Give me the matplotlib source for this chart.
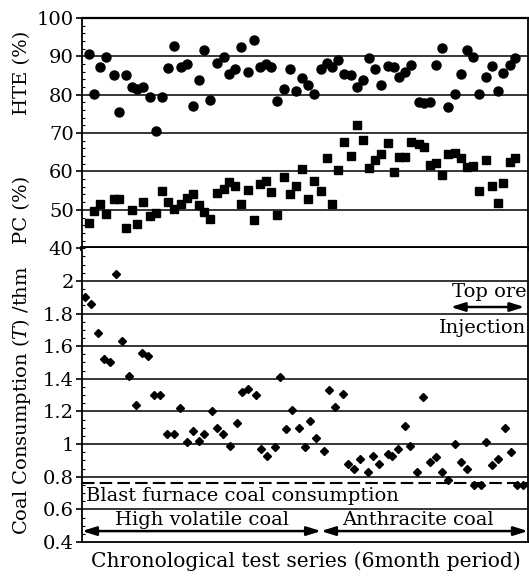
import numpy as np
import matplotlib.pyplot as plt
from matplotlib.ticker import MultipleLocator, FormatStrFormatter

plt.rcParams['font.family'] = ['DejaVu Serif']
plt.rcParams['mathtext.fontset'] = 'dejavuserif'

# test series position (6 month periods), shared by HTE and PC
test_x = [1.1, 2.1, 3.1, 4.1, 5.3, 6.3, 7.4, 8.4, 9.3, 10.3, 11.4, 12.5, 13.5,
          14.5, 15.5, 16.7, 17.7, 18.6, 19.6, 20.6, 21.6, 22.7, 23.9, 24.8,
          25.8, 26.7, 28.0, 28.9, 30.0, 31.0, 31.8, 32.8, 34.0, 35.0, 36.0,
          37.0, 38.0, 39.0, 40.2, 41.2, 42.1, 43.1, 44.0, 45.2, 46.3, 47.3,
          48.2, 49.2, 50.3, 51.5, 52.4, 53.3, 54.4, 55.3, 56.6, 57.5, 58.5,
          59.6, 60.5, 61.5, 62.8, 63.7, 64.7, 65.7, 66.8, 67.9, 68.9, 69.9,
          70.8, 71.9, 72.9]

hte = [90.5, 80.3, 87.3, 89.9, 85.0, 75.6, 85.0, 82.1, 81.6, 82.1, 79.5, 70.6,
       79.3, 87.0, 92.7, 87.3, 88.0, 77.0, 83.8, 91.6, 78.6, 88.3, 89.9, 85.4,
       86.6, 92.3, 86.0, 94.3, 87.3, 88.0, 87.3, 78.3, 81.6, 86.6, 80.9, 84.3,
       82.5, 80.3, 86.6, 88.3, 87.3, 89.0, 85.4, 85.0, 82.1, 83.8, 89.5, 86.6,
       82.5, 87.5, 87.1, 84.7, 86.0, 87.7, 78.2, 77.9, 78.2, 87.7, 92.1, 76.7,
       80.3, 85.4, 91.6, 89.7, 80.3, 84.7, 87.5, 81.0, 85.7, 87.7, 89.5]

pc = [46.6, 49.6, 51.4, 49.0, 52.7, 52.7, 45.4, 49.9, 46.2, 52.0, 48.3, 49.2,
      54.9, 52.0, 50.3, 51.4, 53.2, 54.2, 51.2, 49.4, 47.5, 54.5, 55.4, 57.3,
      56.1, 51.4, 55.3, 47.4, 56.8, 57.5, 54.6, 48.6, 58.6, 54.2, 56.1, 60.7,
      52.7, 57.5, 54.9, 63.4, 51.4, 60.3, 67.7, 64.0, 72.1, 68.1, 61.0, 63.1,
      64.6, 67.4, 59.9, 63.8, 63.8, 67.7, 67.1, 66.4, 61.6, 62.2, 59.0, 64.5,
      64.8, 63.4, 61.2, 61.4, 54.9, 63.1, 56.1, 51.8, 57.1, 62.5, 63.4]

coal_x = [0.5, 1.5, 2.7, 3.7, 4.7, 5.7, 6.8, 7.9, 9.0, 10.1, 11.1, 12.1, 13.1,
          14.3, 15.5, 16.4, 17.6, 18.6, 19.6, 20.6, 21.8, 22.7, 23.7, 24.9,
          26.1, 26.9, 27.9, 29.3, 30.1, 31.1, 32.4, 33.3, 34.3, 35.3, 36.5,
          37.5, 38.4, 39.4, 40.7, 41.6, 42.6, 43.9, 44.8, 45.7, 46.8, 48.1,
          49.0, 49.9, 51.4, 52.2, 53.2, 54.3, 55.2, 56.4, 57.3, 58.5, 59.5,
          60.6, 61.6, 62.7, 63.8, 64.7, 65.9, 67.1, 67.9, 68.9, 70.0, 71.1,
          72.1, 73.2, 74.2]

coal = [1.90, 1.86, 1.68, 1.52, 1.50, 2.04, 1.63, 1.42, 1.24, 1.56, 1.54, 1.30,
        1.30, 1.06, 1.06, 1.22, 1.01, 1.08, 1.02, 1.06, 1.20, 1.10, 1.06, 0.99,
        1.13, 1.32, 1.34, 1.30, 0.97, 0.93, 0.98, 1.41, 1.09, 1.21, 1.10, 0.98,
        1.14, 1.04, 0.96, 1.33, 1.23, 1.31, 0.88, 0.85, 0.91, 0.83, 0.93, 0.88,
        0.94, 0.93, 0.97, 1.11, 0.99, 0.83, 1.29, 0.89, 0.92, 0.83, 0.78, 1.00,
        0.89, 0.85, 0.75, 0.75, 1.01, 0.87, 0.91, 1.10, 0.95, 0.75, 0.75]

blast_furnace_coal = 0.76
coal_change_x = 40.2          # switch from high volatile to anthracite
top_ore_start = 62.0          # start of top ore injection

pct_ticks = [40, 50, 60, 70, 80, 90, 100]
coal_ticks = [0.4, 0.6, 0.8, 1.0, 1.2, 1.4, 1.6, 1.8, 2.0]

fig = plt.figure(figsize=(5.29, 5.76), dpi=100)
ax1 = fig.add_axes([0.155, 0.569, 0.843, 0.400])
ax2 = fig.add_axes([0.155, 0.059, 0.843, 0.510])

for ax in (ax1, ax2):
    ax.set_xlim(0, 75)
    ax.set_xticks([])
    for s in ax.spines.values():
        s.set_linewidth(1.3)
    ax.tick_params(axis='y', which='major', direction='out', length=4,
                   width=1.2, labelsize=14, pad=2)
    ax.tick_params(axis='y', which='minor', direction='in', length=2.5,
                   width=0.8)

# top panel: HTE and PC
ax1.set_ylim(40, 100)
ax1.set_yticks(pct_ticks)
ax1.yaxis.set_minor_locator(MultipleLocator(2))
for v in pct_ticks[1:-1]:
    ax1.axhline(v, color='black', lw=1.1, zorder=1)
ax1.spines['bottom'].set_linewidth(3.5)
ax1.spines['top'].set_linewidth(1.6)
ax1.plot(test_x, hte, 'o', color='black', ms=6.5, zorder=3)
ax1.plot(test_x, pc, 's', color='black', ms=5.5, zorder=3)

# bottom panel: coal consumption
ax2.set_ylim(0.4, 2.2)
ax2.set_yticks(coal_ticks)
ax2.yaxis.set_major_formatter(FormatStrFormatter('%g'))
ax2.yaxis.set_minor_locator(MultipleLocator(0.05))
for v in coal_ticks[1:]:
    ax2.axhline(v, color='black', lw=1.1, zorder=1)
ax2.spines['top'].set_visible(False)
ax2.axhline(blast_furnace_coal, color='black', lw=1.5, dashes=(6, 2.5),
            zorder=2)
ax2.plot(coal_x, coal, 'D', color='black', ms=3.6, zorder=3)

txt = dict(fontsize=14, color='black')
ax2.text(0.6, 0.68, 'Blast furnace coal consumption', ha='left',
         va='center', **txt)
ax2.text(20.2, 0.537, 'High volatile coal', ha='center', va='center', **txt)
ax2.text(56.5, 0.537, 'Anthracite coal', ha='center', va='center', **txt)
ax2.text(74.7, 1.93, 'Top ore', ha='right', va='center', **txt)
ax2.text(74.7, 1.71, 'Injection', ha='right', va='center', **txt)

arrow = dict(arrowstyle='<|-|>,head_length=0.7,head_width=0.22',
             color='black', lw=1.8, mutation_scale=12, shrinkA=0, shrinkB=0)
ax2.annotate('', xy=(0, 0.467), xytext=(coal_change_x, 0.467),
             arrowprops=arrow)
ax2.annotate('', xy=(coal_change_x, 0.467), xytext=(75, 0.467),
             arrowprops=arrow)
ax2.annotate('', xy=(top_ore_start, 1.84), xytext=(74.4, 1.84),
             arrowprops=arrow)

# axis titles
fig.text(22 / 529, 1 - 73 / 576, 'HTE (%)', rotation=90, ha='center',
         va='center', fontsize=14)
fig.text(22 / 529, 1 - 210 / 576, 'PC (%)', rotation=90, ha='center',
         va='center', fontsize=14)
fig.text(22 / 529, 1 - 400 / 576, r'Coal Consumption ($T$) /thm',
         rotation=90, ha='center', va='center', fontsize=14)
fig.text(306 / 529, 1 - 561 / 576, 'Chronological test series (6month period)',
         ha='center', va='center', fontsize=14.6)

fig.savefig('out.png', dpi=100)
